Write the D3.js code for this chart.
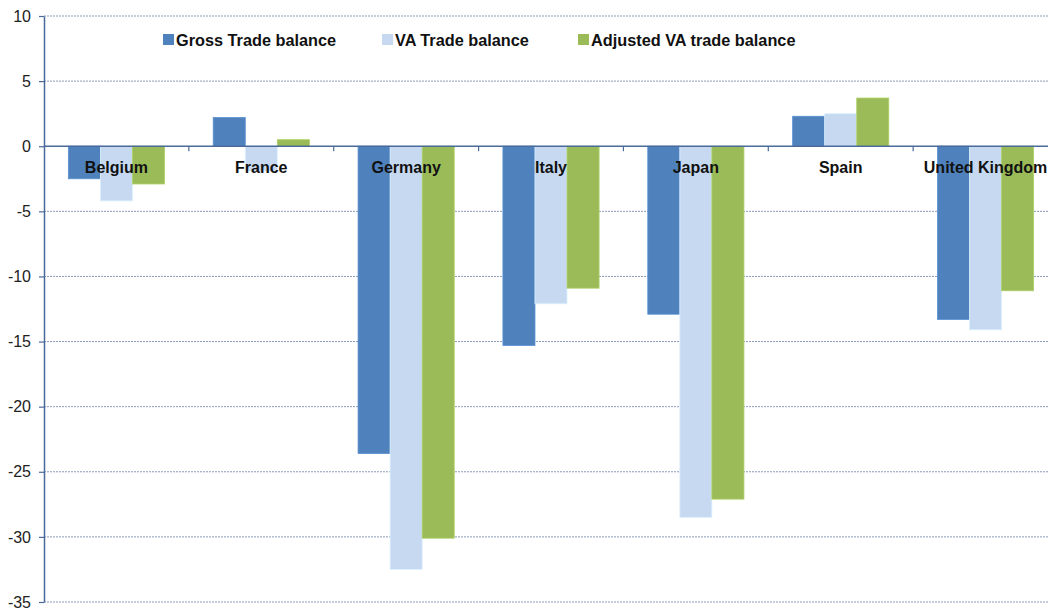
<!DOCTYPE html>
<html>
<head>
<meta charset="utf-8">
<script src="https://cdn.jsdelivr.net/npm/d3@7"></script>
<style>
  body { margin: 0; background: #fff; }
  text { font-family: "Liberation Sans", Arial, sans-serif; }
</style>
</head>
<body>
<div id="chart"></div>
<script>
const countries = ['Belgium', 'France', 'Germany', 'Italy', 'Japan', 'Spain', 'United Kingdom']
const seriesNames = ['Gross Trade balance', 'VA Trade balance', 'Adjusted VA trade balance']
const gross = [-2.5, 2.2, -23.6, -15.3, -12.9, 2.3, -13.3]
const vaTrade = [-4.2, -1.9, -32.5, -12.1, -28.5, 2.5, -14.1]
const adjusted = [-2.9, 0.5, -30.1, -10.9, -27.1, 3.7, -11.1]
const yTicks = [10, 5, 0, -5, -10, -15, -20, -25, -30, -35]
const colors = ['#4f81bd', '#c6d9f1', '#9bbb59']

const width = 1048
const height = 610
// the plot runs a little past the right edge, as in the original crop
const margin = { top: 16, left: 44, right: -10, bottom: 8 }

const svg = d3
  .select('#chart')
  .append('svg')
  .attr('width', width)
  .attr('height', height)

const y = d3.scaleLinear()
  .domain([-35, 10])
  .range([height - margin.bottom, margin.top])

const x = d3.scaleBand()
  .domain(countries)
  .range([margin.left, width - margin.right])

const xInner = d3.scaleBand()
  .domain(seriesNames)
  .range([0, x.bandwidth()])
  .paddingOuter(0.76)

// dotted gridlines
svg.append('g')
  .selectAll('line')
  .data(yTicks.filter(d => d !== 0))
  .enter()
  .append('line')
  .attr('x1', margin.left)
  .attr('x2', width)
  .attr('y1', d => y(d))
  .attr('y2', d => y(d))
  .attr('stroke', '#8a9bb8')
  .attr('stroke-width', 1)
  .attr('stroke-dasharray', '2,1')

// bars
const data = [gross, vaTrade, adjusted]
const groups = svg.append('g')
  .selectAll('g')
  .data(countries)
  .enter()
  .append('g')
  .attr('transform', d => 'translate(' + x(d) + ',0)')

groups.selectAll('rect')
  .data((d, i) => seriesNames.map((s, j) => ({ s: s, v: data[j][i], c: colors[j] })))
  .enter()
  .append('rect')
  .attr('x', d => xInner(d.s))
  .attr('width', xInner.bandwidth())
  .attr('y', d => y(Math.max(0, d.v)))
  .attr('height', d => Math.abs(y(d.v) - y(0)))
  .attr('fill', d => d.c)
  .attr('stroke', d => d3.color(d.c).brighter(0.3))
  .attr('stroke-width', 0.8)

// y axis
const yAxis = svg.append('g')
  .attr('transform', 'translate(' + margin.left + ',0)')
  .call(d3.axisLeft(y).tickValues(yTicks).tickFormat(d => String(d)).tickSize(5).tickSizeOuter(0).tickPadding(8))
yAxis.select('.domain').attr('stroke', '#4a6a9a').attr('stroke-width', 1.5)
yAxis.selectAll('.tick line').attr('stroke', '#4a6a9a').attr('stroke-width', 1.2)
yAxis.selectAll('.tick text')
  .attr('font-size', 16)
  .attr('fill', '#222')
  .style('font-family', '"Liberation Sans", Arial, sans-serif')

// zero line with category ticks
svg.append('line')
  .attr('x1', margin.left)
  .attr('x2', width)
  .attr('y1', y(0))
  .attr('y2', y(0))
  .attr('stroke', '#4a6a9a')
  .attr('stroke-width', 1.5)

svg.append('g')
  .selectAll('line')
  .data(countries.slice(1))
  .enter()
  .append('line')
  .attr('x1', d => x(d))
  .attr('x2', d => x(d))
  .attr('y1', y(0))
  .attr('y2', y(0) + 5)
  .attr('stroke', '#4a6a9a')
  .attr('stroke-width', 1.2)

// category labels, drawn over the bars
svg.append('g')
  .selectAll('text')
  .data(countries)
  .enter()
  .append('text')
  .attr('x', d => x(d) + x.bandwidth() / 2)
  .attr('y', y(0) + 27)
  .attr('text-anchor', 'middle')
  .attr('font-size', 16)
  .attr('font-weight', 'bold')
  .attr('fill', '#111')
  .text(d => d)

// legend
const legendX = [163, 382, 578]
const legend = svg.append('g')
  .selectAll('g')
  .data(seriesNames)
  .enter()
  .append('g')
  .attr('transform', (d, i) => 'translate(' + legendX[i] + ',40)')

legend.append('rect')
  .attr('x', 0)
  .attr('y', -6)
  .attr('width', 11)
  .attr('height', 11)
  .attr('fill', (d, i) => colors[i])

legend.append('text')
  .attr('x', 13)
  .attr('y', 6)
  .attr('font-size', 16.3)
  .attr('font-weight', 'bold')
  .attr('fill', '#111')
  .text(d => d)
</script>
</body>
</html>
